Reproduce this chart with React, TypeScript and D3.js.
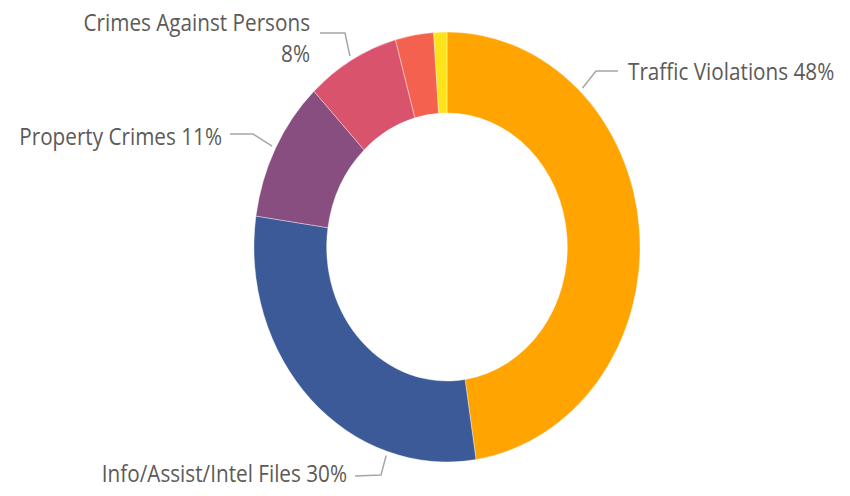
import React from "react";
import * as d3 from "d3";

const categories = [
  "Traffic Violations",
  "Info/Assist/Intel Files",
  "Property Crimes",
  "Crimes Against Persons",
  "Other",
  "Misc",
];
const values = [47.6, 29.7, 10.6, 7.8, 3.2, 1.1];
const colors = ["#FFA400", "#3D5A98", "#884E80", "#D9536C", "#F4624F", "#FDE31A"];

// label layout: which slices get labels, anchor angle on the ring (deg), elbow, text position
const labelLayout = [
  { i: 0, angle: 43.5, elbow: [596, 71], end: [618, 71], tx: 628, ty: 80, anchor: "start", twoLine: false },
  { i: 1, angle: 198, elbow: [381, 475], end: [355, 476], tx: 347, ty: 482, anchor: "end", twoLine: false },
  { i: 2, angle: null, elbow: [253, 134], end: [230, 134], tx: 222, ty: 145, anchor: "end", twoLine: false },
  { i: 3, angle: null, elbow: [345, 33], end: [320, 33], tx: 310, ty: 31, anchor: "end", twoLine: true },
];

const W = 850;
const H = 496;
const cx = 447;
const cy = 247;
const R = 215;
const r = 134;
const sx = 0.898;
const textSx = 0.9;

export default function App() {
  const total = d3.sum(values);
  const pie = d3.pie<number>().sort(null).value((d) => d)(values);
  const arc = d3.arc<d3.PieArcDatum<number>>().innerRadius(r).outerRadius(R);

  const pt = (deg: number, rad: number) => {
    const a = (deg * Math.PI) / 180;
    return [cx + Math.sin(a) * rad * sx, cy - Math.cos(a) * rad];
  };

  return (
    <svg
      width={W}
      height={H}
      style={{ position: "absolute", left: 0, top: 0, background: "#fff" }}
      fontFamily="'Open Sans', 'Noto Sans', sans-serif"
    >
      <g transform={`translate(${cx},${cy}) scale(${sx},1)`}>
        {pie.map((d, k) => (
          <path key={k} d={arc(d) || ""} fill={colors[k]} stroke="#fff" strokeWidth={0.4} />
        ))}
      </g>
      {labelLayout.map((L, k) => {
        const d = pie[L.i];
        const midDeg = L.angle != null ? L.angle : (((d.startAngle + d.endAngle) / 2) * 180) / Math.PI;
        const p0 = pt(midDeg, R * 1.02);
        const pct = Math.round((values[L.i] / total) * 100) + "%";
        const name = categories[L.i];
        return (
          <g key={k}>
            <polyline
              points={`${p0[0]},${p0[1]} ${L.elbow[0]},${L.elbow[1]} ${L.end[0]},${L.end[1]}`}
              fill="none"
              stroke="#A6A6A6"
              strokeWidth={1.5}
            />
            <g transform={`translate(${L.tx},${L.ty}) scale(${textSx},1)`}>
              {L.twoLine ? (
                <text textAnchor={L.anchor} fill="#5C5A58" fontSize={23}>
                  <tspan x={0} y={0}>{name}</tspan>
                  <tspan x={0} y={31}>{pct}</tspan>
                </text>
              ) : (
                <text textAnchor={L.anchor} fill="#5C5A58" fontSize={23}>
                  {name + " " + pct}
                </text>
              )}
            </g>
          </g>
        );
      })}
    </svg>
  );
}
